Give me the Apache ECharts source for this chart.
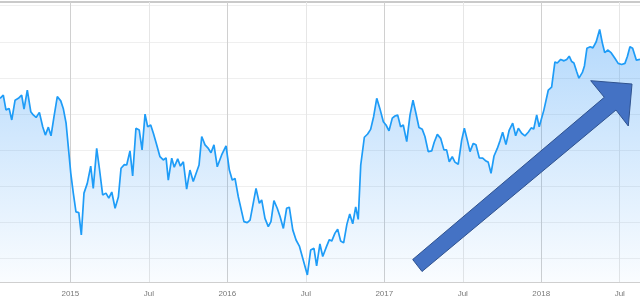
<!DOCTYPE html>
<html>
<head>
<meta charset="utf-8">
<script src="https://cdn.jsdelivr.net/npm/echarts@6/dist/echarts.min.js"></script>
<style>html,body{margin:0;padding:0;background:#fff;overflow:hidden}#c{width:640px;height:300px}</style>
</head>
<body>
<div id="c"></div>
<script>
// x positions as decimal years
const years = [2014.552,2014.573,2014.590,2014.610,2014.627,2014.648,2014.669,2014.690,2014.705,2014.726,
2014.748,2014.764,2014.782,2014.803,2014.824,2014.841,2014.860,2014.877,2014.896,2014.917,
2014.939,2014.955,2014.973,2014.987,2015.003,2015.019,2015.036,2015.054,2015.070,2015.087,
2015.108,2015.130,2015.146,2015.168,2015.185,2015.206,2015.227,2015.245,2015.264,2015.285,
2015.306,2015.323,2015.344,2015.359,2015.380,2015.397,2015.418,2015.439,2015.457,2015.476,
2015.493,2015.512,2015.529,2015.550,2015.571,2015.592,2015.610,2015.624,2015.646,2015.662,
2015.684,2015.701,2015.720,2015.741,2015.762,2015.783,2015.820,2015.837,2015.858,2015.879,
2015.896,2015.915,2015.936,2015.964,2015.992,2016.013,2016.032,2016.049,2016.070,2016.106,
2016.127,2016.145,2016.183,2016.204,2016.219,2016.240,2016.261,2016.278,2016.297,2016.318,
2016.336,2016.357,2016.378,2016.395,2016.417,2016.438,2016.459,2016.484,2016.510,2016.531,
2016.552,2016.569,2016.590,2016.608,2016.633,2016.650,2016.665,2016.686,2016.703,2016.722,
2016.741,2016.762,2016.780,2016.799,2016.818,2016.834,2016.850,2016.873,2016.894,2016.913,
2016.932,2016.952,2016.973,2016.994,2017.011,2017.030,2017.051,2017.068,2017.085,2017.104,
2017.121,2017.143,2017.164,2017.183,2017.202,2017.221,2017.242,2017.259,2017.280,2017.302,
2017.318,2017.338,2017.359,2017.380,2017.397,2017.414,2017.433,2017.450,2017.471,2017.493,
2017.510,2017.529,2017.546,2017.567,2017.584,2017.605,2017.627,2017.648,2017.662,2017.680,
2017.699,2017.720,2017.737,2017.754,2017.775,2017.796,2017.818,2017.837,2017.854,2017.875,
2017.896,2017.917,2017.936,2017.952,2017.971,2017.987,2018.017,2018.045,2018.066,2018.087,
2018.102,2018.124,2018.145,2018.162,2018.178,2018.194,2018.208,2018.226,2018.240,2018.262,
2018.275,2018.291,2018.312,2018.329,2018.350,2018.372,2018.389,2018.404,2018.425,2018.446,
2018.469,2018.490,2018.512,2018.533,2018.549,2018.565,2018.582,2018.606,2018.629];

const values = [54.3,55.2,51.1,51.5,48.3,53.8,54.3,55.2,51.3,56.6,
50.6,49.7,49.0,50.4,46.4,44.1,46.3,43.9,49.2,54.8,
53.6,51.5,47.4,40.9,33.5,28.0,22.8,22.6,16.4,28.0,
30.7,35.5,29.3,40.4,34.9,27.5,28.0,26.6,28.3,23.8,
26.9,34.9,35.9,35.8,39.7,32.8,46.0,45.5,40.0,49.9,
46.4,46.9,44.6,41.4,38.1,37.2,37.8,31.6,37.7,35.2,
37.5,35.5,36.7,29.1,34.4,31.2,35.8,43.7,41.4,40.4,
39.2,41.4,35.3,38.6,41.1,34.4,31.6,32.1,27.0,20.1,
19.8,20.5,29.3,25.2,26.1,21.0,18.7,20.1,25.9,23.8,
21.5,18.2,23.8,24.1,17.8,15.0,13.3,9.4,5.3,12.2,
12.7,7.8,13.9,10.4,13.3,15.1,14.7,16.9,18.0,14.7,
14.2,19.4,22.2,19.5,24.2,20.7,35.8,43.5,44.4,45.7,
49.2,54.3,51.3,47.8,46.9,45.3,48.8,49.4,49.7,46.4,
46.9,42.3,49.7,53.8,50.1,46.2,45.7,43.7,39.5,39.7,
42.1,44.3,43.2,40.0,40.0,36.7,38.1,36.6,36.0,42.7,
46.0,42.7,39.5,41.8,41.4,37.8,37.7,36.9,36.6,33.5,
38.3,40.4,42.5,44.9,41.5,45.5,47.4,43.9,46.0,44.6,
43.9,44.9,46.1,45.8,49.7,46.4,51.1,56.6,57.4,64.4,
64.1,65.1,64.7,65.1,66.0,64.5,64.1,61.7,59.9,61.5,
63.3,68.2,68.6,68.3,70.0,73.4,69.7,67.0,67.7,66.9,
65.4,64.0,63.7,64.0,66.0,68.6,68.2,64.9,65.1];

const tickValues = [2015, 2015.5, 2016, 2016.5, 2017, 2017.5, 2018, 2018.5];
const tickLabels = ['2015', 'Jul', '2016', 'Jul', '2017', 'Jul', '2018', 'Jul'];

const xMin = 2014.552, xMax = 2018.629;
const yMin = 3.34, yMax = 81.03;

const seriesData = years.map((y, i) => [y, values[i]]);

function labelFor(v) {
  for (let i = 0; i < tickValues.length; i++) {
    if (Math.abs(v - tickValues[i]) < 1e-6) return tickLabels[i];
  }
  return '';
}

const vLines = tickValues.map((v, i) => ({
  xAxis: v,
  lineStyle: {color: tickLabels[i] === 'Jul' ? '#e6e6e6' : '#d0d0d0', width: 1, type: 'solid'}
}));

const chart = echarts.init(document.getElementById('c'), null, {renderer: 'canvas'});
chart.setOption({
  animation: false,
  backgroundColor: '#ffffff',
  grid: {left: 0, right: 0, top: 2, bottom: 18, containLabel: false, outerBoundsMode: 'none'},
  xAxis: [{
    type: 'value', min: xMin, max: xMax, splitNumber: 8,
    axisLine: {show: true, lineStyle: {color: '#cfcfcf', width: 1}},
    axisTick: {show: false},
    axisLabel: {show: true, formatter: labelFor, color: '#7a7a7a', fontSize: 8,
      fontFamily: 'Liberation Sans, Arial, sans-serif', margin: 8, hideOverlap: false},
    splitLine: {show: false}
  }, {
    type: 'value', min: xMin, max: xMax, position: 'top',
    axisLine: {show: true, onZero: false, lineStyle: {color: '#cacaca', width: 2}},
    axisTick: {show: false}, axisLabel: {show: false}, splitLine: {show: false}
  }],
  yAxis: {
    type: 'value', min: yMin, max: yMax, splitNumber: 8,
    axisLine: {show: false}, axisTick: {show: false}, axisLabel: {show: false},
    splitLine: {show: true, showMinLine: false, showMaxLine: false,
      lineStyle: {color: '#efefef', width: 1}}
  },
  series: [{
    type: 'line',
    data: seriesData,
    showSymbol: false,
    symbol: 'none',
    lineStyle: {color: '#1e9cf7', width: 1.7},
    areaStyle: {
      origin: 'start',
      color: new echarts.graphic.LinearGradient(0, 0, 0, 1, [
        {offset: 0, color: 'rgba(30,140,245,0.48)'},
        {offset: 1, color: 'rgba(30,140,245,0.03)'}
      ])
    },
    markLine: {
      silent: true,
      symbol: ['none', 'none'],
      label: {show: false},
      emphasis: {disabled: true},
      z: 1,
      data: vLines
    },
    z: 2
  }],
  graphic: [{
    type: 'polygon',
    z: 100,
    shape: {points: [[412.7,259.5],[604.3,97.3],[590.7,80.7],[632,84],[628.3,126],[616,110],[422,271.5]]},
    style: {fill: '#4472c4', stroke: '#2f528f', lineWidth: 1}
  }]
});
</script>
</body>
</html>
